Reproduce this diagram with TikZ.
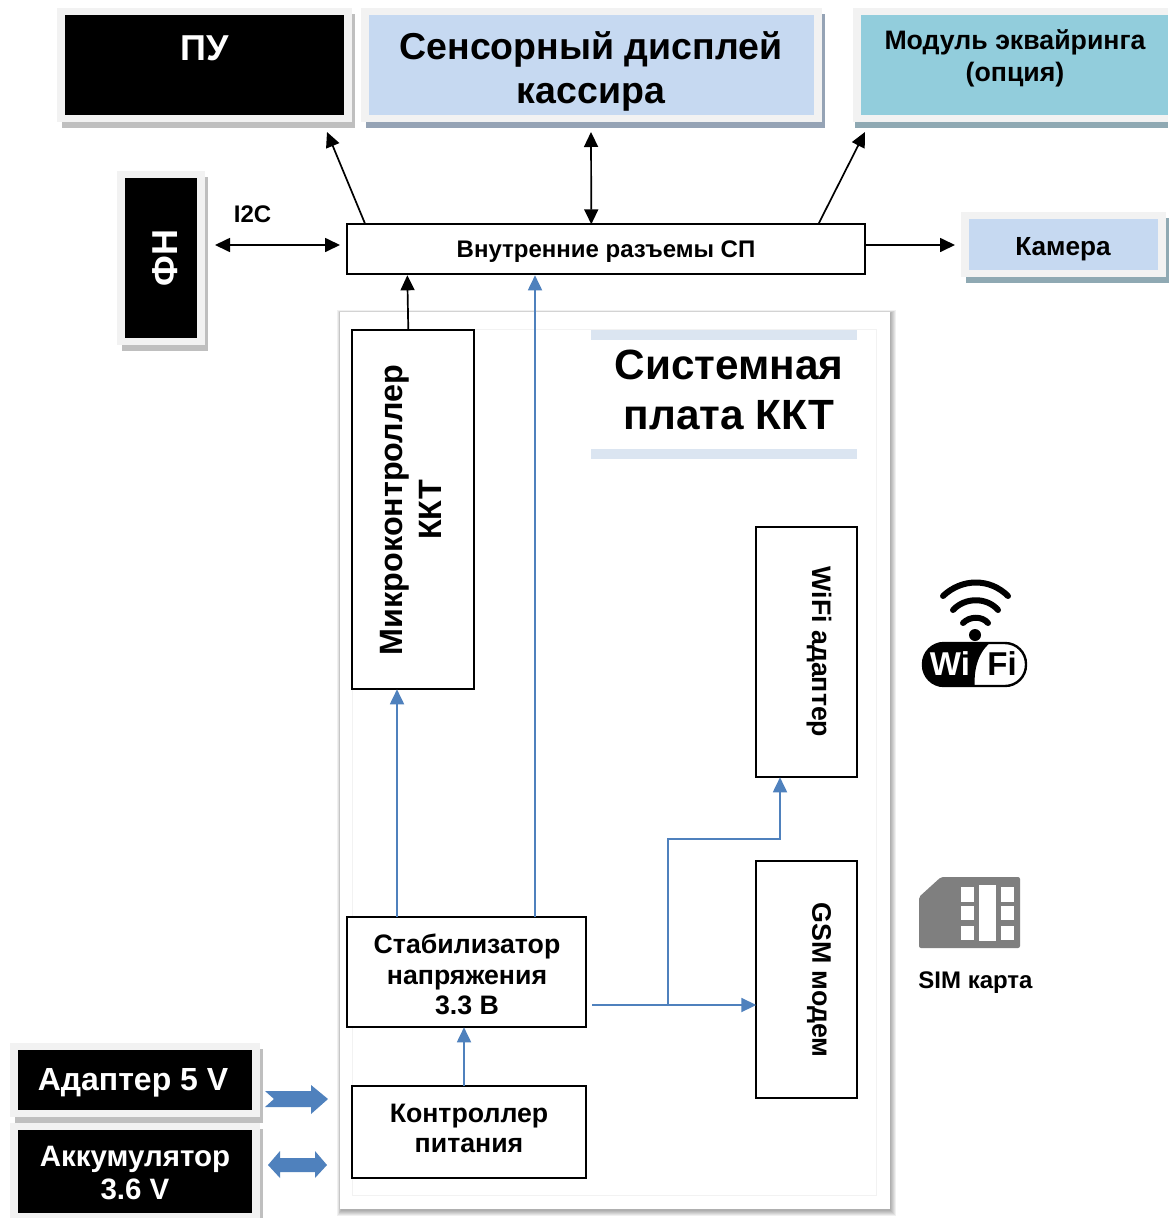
\documentclass[tikz,border=0pt]{standalone}
\usepackage{fontspec}
\setmainfont{Liberation Sans}
\usetikzlibrary{arrows.meta,calc}
\definecolor{framegray}{HTML}{F2F2F2}
\definecolor{lightblue}{HTML}{C6D9F1}
\definecolor{teal}{HTML}{92CDDC}
\definecolor{wireblue}{HTML}{4F81BD}
\definecolor{shblack}{HTML}{BFBFBF}
\definecolor{shblue}{HTML}{95A3B5}
\definecolor{shteal}{HTML}{8FA9B3}
\definecolor{barblue}{HTML}{DBE5F1}
\definecolor{simgray}{HTML}{7F7F7F}
\newcommand{\fsz}[1]{\fontsize{#1}{#1}\selectfont\bfseries}
\tikzset{
  x=1pt,y=-1pt,
  boxed/.style={draw=black,line width=1.8pt,fill=white,inner sep=0pt,outer sep=0pt,align=center},
  lab/.style={inner sep=0pt,align=center,text=black},
  wlab/.style={inner sep=0pt,align=center,text=white},
  blk/.style={-{Triangle[length=15pt,width=14pt]},line width=1.7pt,black},
  blkb/.style={{Triangle[length=15pt,width=14pt]}-{Triangle[length=15pt,width=14pt]},line width=1.7pt,black},
  blu/.style={-{Triangle[length=15pt,width=14pt]},line width=1.8pt,wireblue},
}
% name, x0,y0 frame, x1,y1 frame, inner colour, shadow colour
\newcommand{\panel}[7]{%
  \fill[#7] (#2+5,#3+6) rectangle (#4+3,#5+6);
  \fill[framegray] (#2,#3) rectangle (#4,#5);
  \node[fill=#6,inner sep=0pt,outer sep=0pt,minimum width=#4-#2-16,minimum height=#5-#3-14,anchor=north west] (#1) at (#2+8,#3+7) {};
}
\newcommand{\bx}[6][]{%
  \node[boxed,minimum width=#5-#3,minimum height=#6-#4,anchor=north west,#1] (#2) at (#3+0.3,#4+0.3) {};
}
\begin{document}
\begin{tikzpicture}
\useasboundingbox (0,0) rectangle (1168,1218);
\fill[white] (0,0) rectangle (1168,1218);

% top panels
\panel{pu}{57}{8}{352}{122}{black}{shblack}
\node[wlab,font=\fsz{36}] (putxt) at (205,48) {ПУ};
\panel{disp}{361}{8}{822}{122}{lightblue}{shblue}
\node[lab,font=\fsz{37.5}] (disptxt) at (591,71.5) {Сенсорный дисплей\\[6pt]кассира};
\fill[shteal] (855,122) rectangle (1168,128);
\fill[framegray] (853,8) rectangle (1168,122);
\fill[teal] (861,15) rectangle (1168,115);
\node[lab,font=\fsz{26.7}] (modtxt) at (1015,58) {Модуль эквайринга\\[5pt](опция)};
\panel{cam}{961}{212}{1166}{277}{lightblue}{shteal}
\node[lab,font=\fsz{26.2}] (camtxt) at (1063,249) {Камера};
\panel{fn}{117}{171}{205}{345}{black}{shblack}
\node[wlab,font=\fsz{36},rotate=90] (fntxt) at (165,258) {ФН};
\panel{ad}{10}{1043}{260}{1117}{black}{shblack}
\node[wlab,font=\fsz{32}] (adtxt) at (133,1083) {Адаптер 5 V};
\panel{bat}{10}{1123}{260}{1220}{black}{shblack}
\node[wlab,font=\fsz{29.5}] (battxt) at (135,1173) {Аккумулятор\\[4pt]3.6 V};

% system board
\foreach \d in {0,...,5} {
  \fill[black,opacity=.06] (337+0.8*\d,310+0.5*\d) rectangle (896-\d,1216-\d);
}
\fill[white] (340,311.5) rectangle (890,1209);
\draw[framegray,line width=1pt] (352,329) rectangle (876,1195);
\fill[barblue] (591,330) rectangle (857,340);
\fill[barblue] (591,449) rectangle (857,459);
\node[lab,font=\fsz{42.3}] (sys) at (729,390) {Системная\\[8pt]плата ККТ};

% boxes
\bx{conn}{347}{224}{865}{274}
\node[lab,font=\fsz{24}] (conntxt) at (606,252) {Внутренние разъемы СП};
\bx{mcu}{352}{330}{474}{689}
\node[lab,font=\fsz{32.3},rotate=90] (mcutxt) at (411,510) {Микроконтроллер\\[6pt]ККТ};
\bx{wifi}{756}{527}{857}{777}
\node[lab,font=\fsz{26.7},rotate=-90] (wifitxt) at (819,652) {WiFi адаптер};
\bx{gsm}{756}{861}{857}{1098}
\node[lab,font=\fsz{26.8},rotate=-90] (gsmtxt) at (819,980) {GSM модем};
\bx{stab}{347}{917}{586}{1027}
\node[lab,font=\fsz{26.7}] (stabtxt) at (467,974.5) {Стабилизатор\\[4pt]напряжения\\[4pt]3.3 В};
\bx{ctrl}{352}{1086}{586}{1178}
\node[lab,font=\fsz{26.7}] (ctrltxt) at (469,1128.5) {Контроллер\\[4pt]питания};

\node[lab,font=\fsz{24}] (i2c) at (252.5,214) {I2C};
\node[lab,font=\fsz{24}] (simtxt) at (975.5,983) {SIM карта};

% free ends
\coordinate (puend) at (327,132);
\coordinate (dispend) at (591,132);
\coordinate (modend) at (865,132);
\coordinate (fnend) at (215,245);
\coordinate (connin) at (340,245);
\coordinate (connout) at (865,245);
\coordinate (camend) at (955,245);
\coordinate (stabout) at (592,1005);
\coordinate (split) at (668,1005);
\coordinate (bendA) at (668,839);
\coordinate (bendB) at (780,839);

% black connectors
\draw[blk] ($(conn.north west)+(18,0)$) -- (puend);
\draw[blkb] ($(conn.north west)+(244,0)$) -- (dispend);
\draw[blk] ($(conn.north west)+(471,0)$) -- (modend);
\draw[blkb] (fnend) -- (connin);
\draw[blk] (connout) -- (camend);
\draw[blk] ($(mcu.north west)+(56,0)$) -- ($(conn.south west)+(60,1)$);

% blue connectors
\draw[blu] ($(stab.north west)+(49.7,0)$) -- ($(mcu.south west)+(44.7,0)$);
\draw[blu] ($(stab.north west)+(187.7,0)$) -- ($(conn.south west)+(187.7,1)$);
\draw[blu] (stabout) -- (gsm.west |- stabout);
\draw[blu] (split) -- (bendA) -- (bendB) -- (wifi.south -| bendB);
\draw[blu] ($(ctrl.north west)+(111.7,0)$) -- ($(stab.south west)+(116.7,0)$);

% block arrows
\fill[wireblue] (265,1091) -- (311,1091) -- (311,1085) -- (328,1099) -- (311,1114) -- (311,1107) -- (265,1107) -- (274,1099) -- cycle;
\fill[wireblue] (268,1165) -- (280,1151) -- (280,1158) -- (315,1158) -- (315,1151) -- (327,1165) -- (315,1178) -- (315,1172) -- (280,1172) -- (280,1178) -- cycle;

% wifi icon
\draw[black,line width=6pt,line cap=round] (943,596) .. controls (962,578) and (990,578) .. (1008,596);
\draw[black,line width=6pt,line cap=round] (953,610) .. controls (965,597) and (987,597) .. (998,610);
\draw[black,line width=6pt,line cap=round] (963,623) .. controls (970,616) and (982,616) .. (988,623);
\fill[black] (975,635) circle (6);
\draw[black,line width=2.4pt,fill=white,rounded corners=21pt] (923,643) rectangle (1026,686);
\begin{scope}
  \clip[rounded corners=21pt] (923,643) rectangle (1026,686);
  \fill[black] (920,640) -- (994,640) .. controls (978,650) and (973,670) .. (975,690) -- (920,690) -- cycle;
\end{scope}
\node[wlab,font=\fsz{33}] (witxt) at (950,664) {Wi};
\node[lab,font=\fsz{33}] (fitxt) at (1002,664) {Fi};

% sim icon
\fill[simgray,rounded corners=2pt] (919,897) -- (941,877) -- (1020,877) -- (1020,948) -- (919,948) -- cycle;
\fill[white] (961,887) rectangle (974,902);
\fill[white] (961,906) rectangle (974,920);
\fill[white] (961,926) rectangle (974,940);
\fill[white] (979,885) rectangle (996,941);
\fill[white] (1001,887) rectangle (1014,902);
\fill[white] (1001,906) rectangle (1014,920);
\fill[white] (1001,926) rectangle (1014,940);
\end{tikzpicture}
\end{document}
